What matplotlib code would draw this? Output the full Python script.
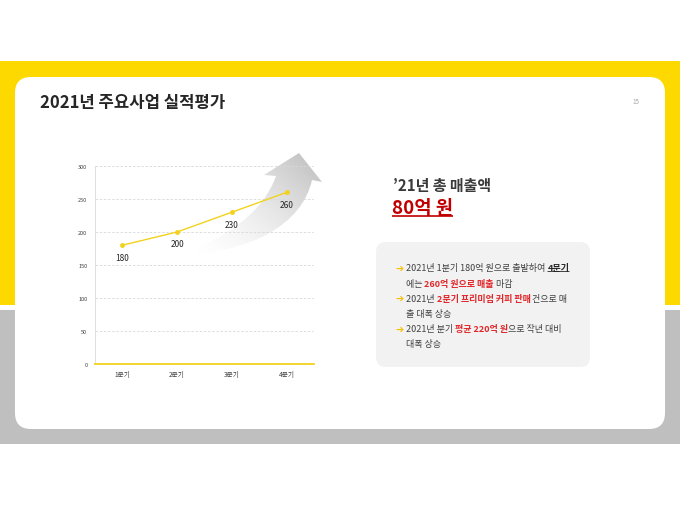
import numpy as np
import matplotlib.pyplot as plt
from matplotlib.patches import Rectangle, FancyBboxPatch, PathPatch
from matplotlib.path import Path

plt.rcParams['font.family'] = ['Noto Sans CJK KR', 'DejaVu Sans']

# 차트 데이터
quarters = ['1분기', '2분기', '3분기', '4분기']
sales = [180, 200, 230, 260]
y_ticks = [0, 50, 100, 150, 200, 250, 300]

title = '2021년 주요사업 실적평가'
page_no = '15'
kpi_label = '’21년 총 매출액'
kpi_value = '80억 원'

# n = 일반, r = 빨간 굵게, u = 굵게 + 밑줄
bullet_lines = [
    [('2021년 1분기 180억 원으로 출발하여 ', 'n'), ('4분기', 'u')],
    [('에는 ', 'n'), ('260억 원으로 매출', 'r'), (' 마감', 'n')],
    [('2021년 ', 'n'), ('2분기 프리미엄 커피 판매', 'r'), (' 건으로 매', 'n')],
    [('출 대폭 상승', 'n')],
    [('2021년 분기 ', 'n'), ('평균 220억 원', 'r'), ('으로 작년 대비', 'n')],
    [('대폭 상승', 'n')],
]
bullet_starts = [True, False, True, False, True, False]

YELLOW = '#fdd900'
LINE_YELLOW = '#f2d21c'
RED = '#e0262a'
DARK = '#3a3a3a'

W, H = 680, 510
fig = plt.figure(figsize=(6.8, 5.1), dpi=100)
bg = fig.add_axes([0, 0, 1, 1], zorder=0)
bg.set_xlim(0, W)
bg.set_ylim(H, 0)
bg.axis('off')

# 배경
bg.add_patch(Rectangle((0, 62), W, 244, color=YELLOW, lw=0))
bg.add_patch(Rectangle((0, 311), W, 134, color='#bfbfbf', lw=0))
bg.add_patch(FancyBboxPatch((15, 78), 650, 352, boxstyle='round,pad=0,rounding_size=16',
                            fc='white', ec='none'))
bg.add_patch(FancyBboxPatch((376, 243), 214, 125, boxstyle='round,pad=0,rounding_size=10',
                            fc='#f2f2f2', ec='none'))

# 상승 화살표 (그라데이션)
verts = [(178, 256), (250, 254), (302, 226), (312, 181),
         (322, 183), (299, 154), (264, 176), (276, 177),
         (263, 214), (225, 240), (178, 256), (178, 256)]
codes = [Path.MOVETO, Path.CURVE4, Path.CURVE4, Path.CURVE4,
         Path.LINETO, Path.LINETO, Path.LINETO, Path.LINETO,
         Path.CURVE4, Path.CURVE4, Path.CURVE4, Path.CLOSEPOLY]
arrow = PathPatch(Path(verts, codes), fc='none', ec='none')
bg.add_patch(arrow)
gx, gy = np.meshgrid(np.linspace(175, 325, 150), np.linspace(150, 260, 110))
t = np.clip(((gx - 180) * 0.9 + (255 - gy) * 1.0) / 205, 0, 1)
shade = 1 - 0.22 * t ** 1.7
im = bg.imshow(shade, cmap='gray', vmin=0, vmax=1, extent=(175, 325, 260, 150),
               interpolation='bilinear', aspect='auto', zorder=2)
im.set_clip_path(arrow)
bg.set_xlim(0, W)
bg.set_ylim(H, 0)

# 제목
bg.text(40, 103, title, fontsize=12, fontweight='bold', color='#262626', ha='left', va='center')
bg.text(636, 102, page_no, fontsize=4.5, color='#a6a6a6', ha='center', va='center')

# KPI
bg.text(393, 186, kpi_label, fontsize=10.8, fontweight='bold', color=DARK, ha='left', va='center')
kpi = bg.text(392, 209, kpi_value, fontsize=13.5, fontweight='bold', color='#c00000',
              ha='left', va='center')

# 글머리표 문장
styles = {
    'n': dict(color='#404040'),
    'r': dict(color=RED, fontweight='bold'),
    'u': dict(color='#262626', fontweight='bold'),
}
underlined = [(kpi, '#c00000', 1.2)]
y = 269
for parts, start in zip(bullet_lines, bullet_starts):
    if start:
        bg.text(399, y, '➔', family='DejaVu Sans', fontsize=7, fontweight='bold',
                color='#f5c000', ha='center', va='center')
    prev = None
    for s, kind in parts:
        if prev is None:
            txt = bg.text(406, y, s, fontsize=6.5, ha='left', va='center', **styles[kind])
        else:
            txt = bg.annotate(s, xy=(1, 0), xycoords=prev, fontsize=6.5, ha='left',
                              va='bottom', **styles[kind])
        if kind == 'u':
            underlined.append((txt, '#262626', 0.6))
        prev = txt
    y += 15.2

# 꺾은선 차트
ax = fig.add_axes([95 / W, 1 - 365 / H, 219 / W, 198 / H], zorder=1)
ax.patch.set_alpha(0)
x = np.arange(len(quarters))
ax.plot(x, sales, color=LINE_YELLOW, lw=1.0, marker='o', ms=2.5, zorder=3)
for xi, v in zip(x, sales):
    ax.annotate(str(v), (xi, v), xytext=(0, -8.6), textcoords='offset points',
                ha='center', va='center', fontsize=6, color='#262626')
ax.set_xlim(-0.5, len(quarters) - 0.5)
ax.set_ylim(0, 300)
ax.set_yticks(y_ticks)
ax.set_xticks(x, quarters)
ax.tick_params(axis='y', length=0, labelsize=4, colors='#404040', pad=5.5)
ax.tick_params(axis='x', length=0, labelsize=4.8, colors='#404040', pad=4)
ax.grid(axis='y', ls=(0, (3, 2)), color='#d9d9d9', lw=0.6)
ax.set_axisbelow(True)
for side in ['top', 'right']:
    ax.spines[side].set_visible(False)
ax.spines['left'].set_color('#d9d9d9')
ax.spines['left'].set_linewidth(0.6)
ax.spines['bottom'].set_color(LINE_YELLOW)
ax.spines['bottom'].set_linewidth(1.3)

# 밑줄
fig.canvas.draw()
inv = bg.transData.inverted()
for txt, col, lw in underlined:
    bb = txt.get_window_extent()
    (x0, y0), (x1, y1) = inv.transform([(bb.x0, bb.y0), (bb.x1, bb.y1)])
    bg.plot([x0, x1], [y0 - 1, y0 - 1], color=col, lw=lw, solid_capstyle='butt')

fig.savefig('out.png', dpi=100)
